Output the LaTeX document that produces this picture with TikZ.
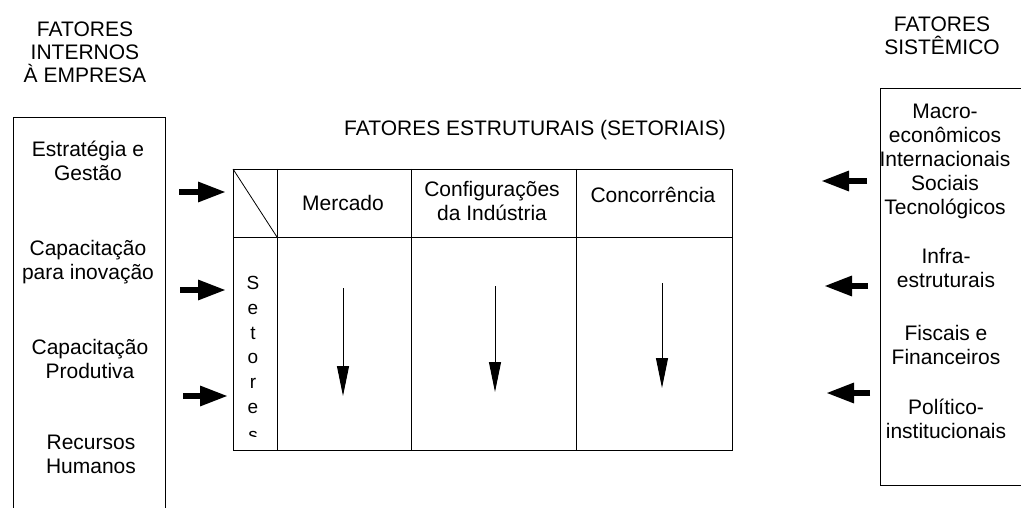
\documentclass[tikz,border=0pt]{standalone}
\usepackage{fontspec}
\setmainfont{Liberation Sans}
\usetikzlibrary{arrows.meta}
\begin{document}
\begin{tikzpicture}[x=1pt,y=-1pt,
  txt/.style={font=\fontsize{21}{24}\selectfont, align=center, inner sep=0pt},
  hd/.style={font=\fontsize{21}{22.8}\selectfont, align=center, inner sep=0pt},
  lbl/.style={font=\fontsize{19}{23}\selectfont, align=center, inner sep=0pt},
  frame/.style={draw=black, line width=0.9pt},
  thick arrow/.style={line width=6pt, -{Triangle[length=28pt,width=19pt]}},
  thin arrow/.style={line width=1pt, -{Triangle[length=30pt,width=12pt]}}]
\useasboundingbox[fill=white] (0,0) rectangle (1021,508);

% headings
\node[hd] (hint) at (85,52) {FATORES\\INTERNOS\\À EMPRESA};
\node[hd] (hsis) at (942,36) {FATORES\\SISTÊMICO};
\node[txt] (htab) at (535,130) {FATORES ESTRUTURAIS (SETORIAIS)};

% left box
\draw[frame] (13,508) -- (13,117) -- (165,117) -- (165,508);
\node[txt] (l1) at (88,161) {Estratégia e\\Gestão};
\node[txt] (l2) at (88,262) {Capacitação\\para inovação};
\node[txt] (l3) at (90,359) {Capacitação\\Produtiva};
\node[txt] (l4) at (91,454) {Recursos\\Humanos};

% right box
\draw[frame] (1021,88) -- (880,88) -- (880,485) -- (1021,485);
\node[txt] (r1) at (945,161) {Macro-\\econômicos\\Internacionais\\Sociais\\Tecnológicos};
\node[txt] (r2) at (946,268) {Infra-\\estruturais};
\node[txt] (r3) at (946,345) {Fiscais e\\Financeiros};
\node[txt] (r4) at (946,419) {Político-\\institucionais};

% table
\coordinate (tl) at (233,169);
\coordinate (br) at (732,450);
\draw[frame] (tl) rectangle (br);
\draw[frame] (233,237) -- (732,237);
\draw[frame] (277,169) -- (277,450);
\draw[frame] (411,169) -- (411,450);
\draw[frame] (576,169) -- (576,450);
\draw[line width=0.8pt] (tl) -- (277,237);

\node[txt] (mer) at (343,203) {Mercado};
\node[txt] (cfg) at (492,201) {Configurações\\da Indústria};
\node[txt] (con) at (653,195) {Concorrência};

% Setores
\foreach \c/\yy [count=\i] in {S/283,e/309,t/333,o/358,r/383,e/408}
  \node[lbl, anchor=center] (set\i) at (253,\yy) {\c};
\begin{scope}
  \clip (240,420) rectangle (270,436.5);
  \node[lbl, anchor=center] (set7) at (253,436) {s};
\end{scope}

% arrows in cells
\coordinate (a1s) at (343,288); \coordinate (a1e) at (343,396);
\coordinate (a2s) at (495,286); \coordinate (a2e) at (495,392);
\coordinate (a3s) at (662,283); \coordinate (a3e) at (662,388);
\draw[thin arrow] (a1s) -- (a1e);
\draw[thin arrow] (a2s) -- (a2e);
\draw[thin arrow] (a3s) -- (a3e);

% left thick arrows
\coordinate (la1) at (179,192); \coordinate (lb1) at (226,192);
\coordinate (la2) at (180,290); \coordinate (lb2) at (226,290);
\coordinate (la3) at (183,396); \coordinate (lb3) at (228,396);
\draw[thick arrow] (la1) -- (lb1);
\draw[thick arrow] (la2) -- (lb2);
\draw[thick arrow] (la3) -- (lb3);

% right thick arrows
\coordinate (ra1) at (867,181); \coordinate (rb1) at (821,181);
\coordinate (ra2) at (868,286); \coordinate (rb2) at (824,286);
\coordinate (ra3) at (870,393); \coordinate (rb3) at (826,393);
\draw[thick arrow] (ra1) -- (rb1);
\draw[thick arrow] (ra2) -- (rb2);
\draw[thick arrow] (ra3) -- (rb3);
\end{tikzpicture}
\end{document}
